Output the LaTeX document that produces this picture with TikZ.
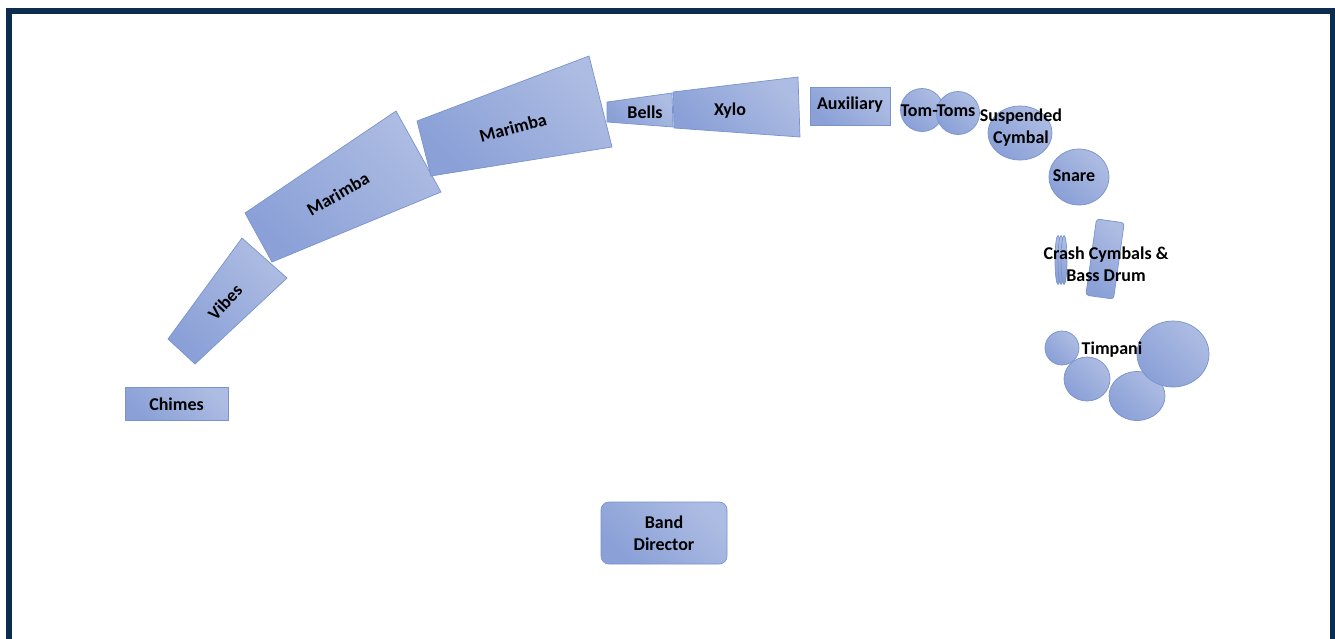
\documentclass[tikz,border=0pt]{standalone}
\usepackage{fontspec}
\setmainfont{Carlito}
\definecolor{framec}{HTML}{0D2D4F}
\definecolor{dk}{HTML}{8AA0D7}
\definecolor{lt}{HTML}{ADBCE2}
\definecolor{edgec}{HTML}{7893CD}
\begin{document}
\begin{tikzpicture}[x=1pt,y=-1pt,
  inst/.style={draw=edgec, line width=0.7pt, top color=lt, bottom color=dk, shading angle=-45},
  lbl/.style={font=\fontsize{18}{22}\selectfont\bfseries, text=black, inner sep=0pt, align=center}]
\useasboundingbox (0,0) rectangle (1335,638);
\fill[white] (0,0) rectangle (1335,638);
\draw[framec, line width=6pt] (9,645) -- (9,11) -- (1332.5,11) -- (1332.5,645);
% Chimes
\path[inst] (125,387) rectangle (228,420);
\node[lbl] (chimes) at (176.5,404) {Chimes};
% Vibes
\path[inst] (242,238) -- (287,278) -- (195,364) -- (168,339) -- cycle;
\node[lbl, rotate=47] (vibes) at (225,302) {Vibes};
% Marimba 1
\path[inst] (396,111) -- (441,192) -- (272,262) -- (245,213) -- cycle;
\node[lbl, rotate=30] (marimbaA) at (338,194) {Marimba};
% Marimba 2
\path[inst] (417,121) -- (589,56) -- (612,147) -- (431,176) -- cycle;
\node[lbl, rotate=15] (marimbaB) at (513,128) {Marimba};
% Bells
\path[inst] (607,102) -- (672,93) -- (673,127) -- (607,122) -- cycle;
\node[lbl] (bells) at (645,112) {Bells};
% Xylo
\path[inst] (673,92) -- (798,77) -- (800,137) -- (674,128) -- cycle;
\node[lbl] (xylo) at (730,111) {Xylo};
% Auxiliary
\path[inst] (810,87) rectangle (890,125);
\node[lbl] (aux) at (850,105) {Auxiliary};
% Tom-Toms
\path[inst] (922,110) circle[radius=21.5pt];
\path[inst] (958,113) circle[radius=21.5pt];
\node[lbl] (toms) at (938,111) {Tom-Toms};
% Suspended cymbal
\path[inst] (1020,133) ellipse[x radius=32pt, y radius=27pt];
\node[lbl] (cymbal) at (1021,128) {Suspended\\Cymbal};
% Snare
\path[inst] (1079,177) ellipse[x radius=30pt, y radius=28pt];
\node[lbl] (snare) at (1074,176) {Snare};
% Crash cymbals
\path[inst] (1058,260) ellipse[x radius=3pt, y radius=24.5pt];
\path[inst] (1061,260) ellipse[x radius=3pt, y radius=24.5pt];
\path[inst] (1064,260) ellipse[x radius=3pt, y radius=24.5pt];
% Bass drum
\node[inst, rotate=-8, minimum width=28pt, minimum height=77pt, rounded corners=3pt, inner sep=0pt] (bass) at (1105,259) {};
\node[lbl] (crash) at (1106,264) {Crash Cymbals \&\\Bass Drum};
% Timpani
\path[inst] (1062,348) circle[radius=17pt];
\path[inst] (1087,379) ellipse[x radius=23pt, y radius=22pt];
\path[inst] (1137,396) ellipse[x radius=28pt, y radius=24.5pt];
\path[inst] (1173,354) ellipse[x radius=36pt, y radius=33pt];
\node[lbl] (timpani) at (1112,350) {Timpani};
% Band Director
\path[inst, rounded corners=8pt] (601,502) rectangle (727,564);
\node[lbl] (director) at (664,533) {Band\\Director};
\end{tikzpicture}
\end{document}
